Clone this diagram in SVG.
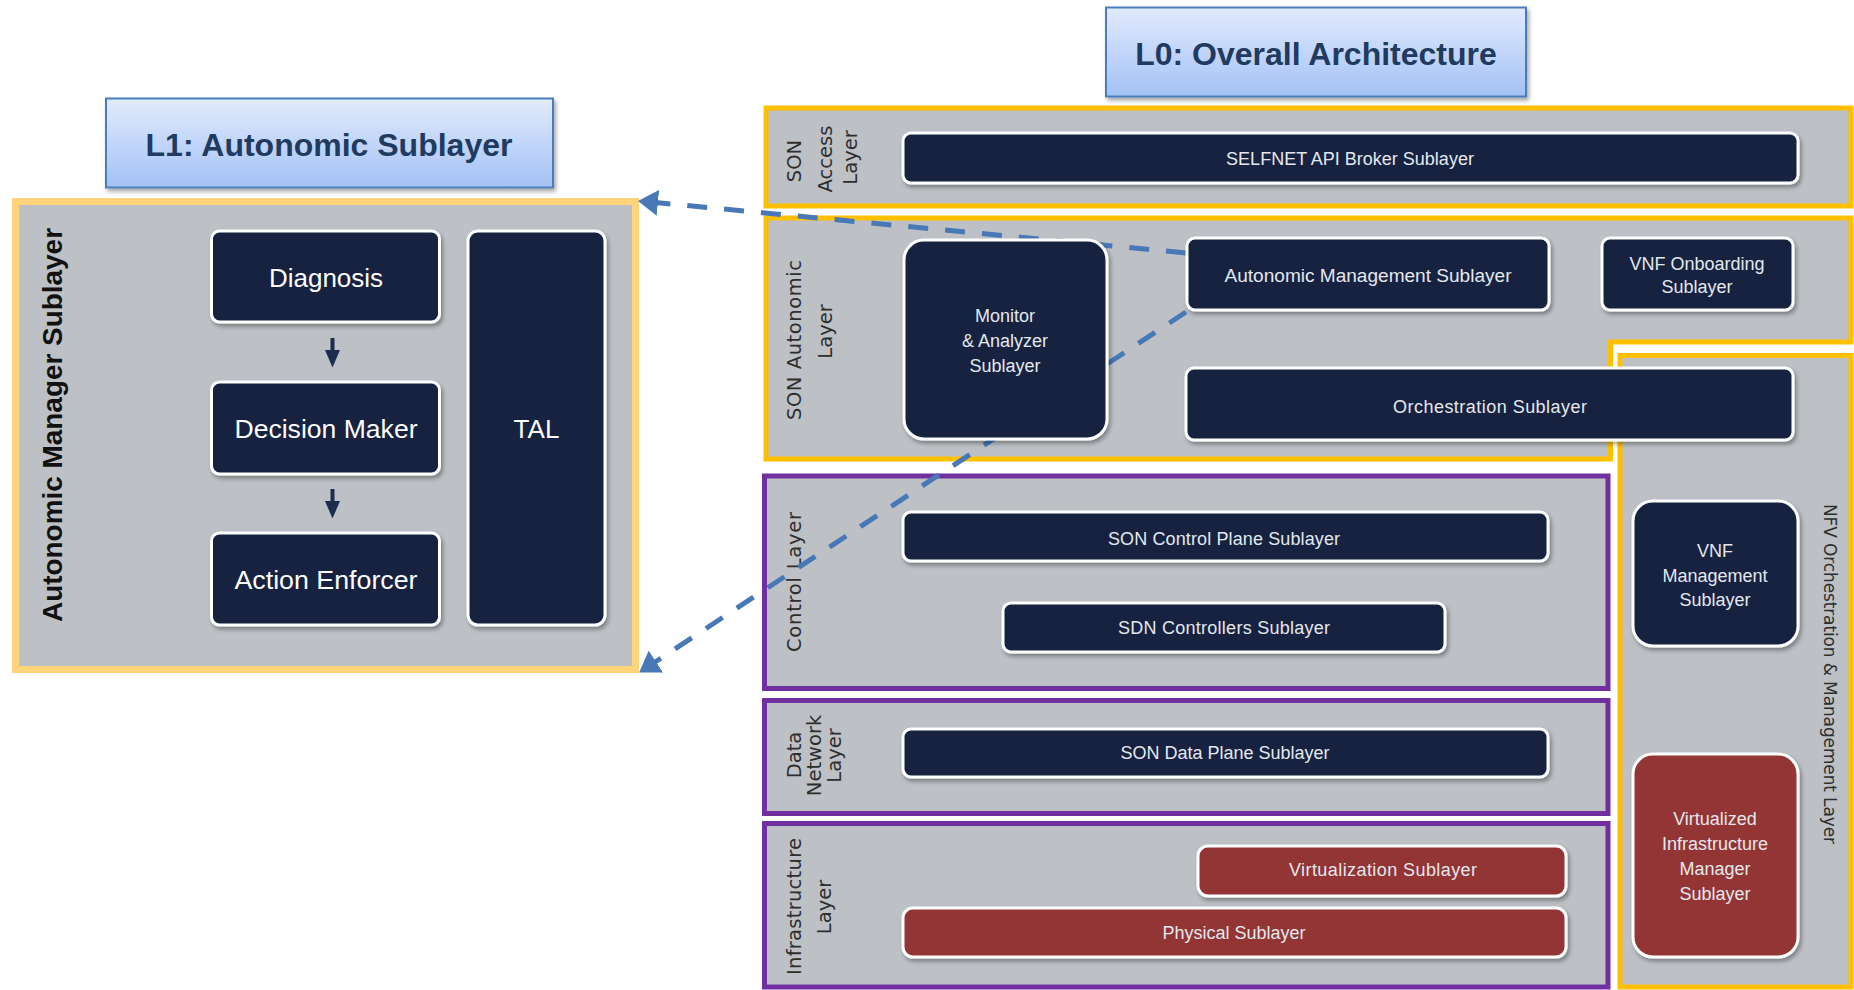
<svg xmlns="http://www.w3.org/2000/svg" width="1854" height="990" viewBox="0 0 1854 990">
<defs>
<linearGradient id="tg" x1="0" y1="0" x2="0" y2="1">
<stop offset="0" stop-color="#E2EBFD"/>
<stop offset="1" stop-color="#A3C1F5"/>
</linearGradient>
<filter id="sh" x="-10%" y="-10%" width="130%" height="140%">
<feDropShadow dx="2" dy="3" stdDeviation="2" flood-color="#000" flood-opacity="0.35"/>
</filter>
<marker id="ah" markerUnits="userSpaceOnUse" markerWidth="20" markerHeight="26" viewBox="0 0 20 26" refX="19" refY="13" orient="auto">
<path d="M0,0 L20,13 L0,26 z" fill="#4878B6"/>
</marker>
<style>
.title{fill:url(#tg);stroke:#4A7EBB;stroke-width:2;filter:url(#sh)}
.tt{font-family:"Liberation Sans",Arial,sans-serif;font-weight:bold;font-size:32px;fill:#203A60;text-anchor:middle}
.fy{fill:#BDC1C6;stroke:#FFC000;stroke-width:5}
.fp{fill:#BDC1C6;stroke:#7030A0;stroke-width:5}
.fl1{fill:#BDC1C6;stroke:#FFD47A;stroke-width:7}
.dk{fill:#12243F;stroke:#FFFFFF;stroke-width:3;filter:url(#sh)}
.rd{fill:#943634;stroke:#FFFFFF;stroke-width:3;filter:url(#sh)}
.nt{font-family:"Liberation Sans",Arial,sans-serif;font-size:18px;fill:#E4E8EE;text-anchor:middle}
.bt{font-family:"Liberation Sans",Arial,sans-serif;font-size:26px;fill:#FFFFFF;text-anchor:middle}
.lb{font-family:"DejaVu Sans",Verdana,sans-serif;font-size:19.5px;fill:#2E2E2E;text-anchor:middle}
.conn{fill:none;stroke:#4878B6;stroke-width:5;stroke-dasharray:20 17;marker-end:url(#ah)}
.da{fill:#1C2E4F}
</style>
</defs>
<rect width="1854" height="990" fill="#FFFFFF"/>

<!-- L1 -->
<g id="l1-title">
<rect class="title" x="106" y="98.5" width="447" height="89"/>
<text class="tt" x="329" y="156">L1: Autonomic Sublayer</text>
</g>
<g id="l1-frame">
<rect class="fl1" x="15.5" y="201.5" width="620" height="468"/>
<text transform="translate(62,425) rotate(-90)" font-family="'Liberation Sans',Arial,sans-serif" font-weight="bold" font-size="27" fill="#111111" text-anchor="middle" textLength="394" lengthAdjust="spacingAndGlyphs">Autonomic Manager Sublayer</text>
</g>
<g id="diagnosis">
<rect class="dk" x="211.5" y="231" width="228" height="91" rx="8"/>
<text class="bt" x="326" y="287">Diagnosis</text>
</g>
<g id="decision-maker">
<rect class="dk" x="211.5" y="382" width="228" height="92" rx="8"/>
<text class="bt" x="326" y="437.5" textLength="183" lengthAdjust="spacingAndGlyphs">Decision Maker</text>
</g>
<g id="action-enforcer">
<rect class="dk" x="211.5" y="533" width="228" height="92" rx="8"/>
<text class="bt" x="326" y="589" textLength="183" lengthAdjust="spacingAndGlyphs">Action Enforcer</text>
</g>
<g id="tal">
<rect class="dk" x="468" y="231" width="137" height="394" rx="10"/>
<text class="bt" x="536.5" y="437.5">TAL</text>
</g>
<g id="l1-arrows">
<rect class="da" x="330.5" y="338" width="4" height="14"/>
<polygon class="da" points="325,350 340,350 332.5,367.5"/>
<rect class="da" x="330.5" y="489" width="4" height="14"/>
<polygon class="da" points="325,501 340,501 332.5,518.5"/>
</g>

<!-- L0 -->
<g id="l0-title">
<rect class="title" x="1106" y="7.5" width="420" height="89"/>
<text class="tt" x="1316" y="65">L0: Overall Architecture</text>
</g>

<g id="son-access-layer">
<rect class="fy" x="766" y="108" width="1085" height="98"/>
<text class="lb" transform="translate(801,161) rotate(-90)">SON</text>
<text class="lb" transform="translate(832,159) rotate(-90)">Access</text>
<text class="lb" transform="translate(857,157.5) rotate(-90)">Layer</text>
</g>
<g id="son-autonomic-layer">
<polygon class="fy" points="766,218 1851,218 1851,342 1610.5,342 1610.5,459 766,459"/>
<text class="lb" transform="translate(801,340) rotate(-90)" textLength="160" lengthAdjust="spacing">SON Autonomic</text>
<text class="lb" transform="translate(832,331.5) rotate(-90)">Layer</text>
</g>
<g id="nfv-layer">
<rect class="fy" x="1620" y="355.5" width="231" height="631.5"/>
<text transform="translate(1824,674) rotate(90)" font-family="'DejaVu Sans',Verdana,sans-serif" font-size="17" fill="#2E2E2E" text-anchor="middle" textLength="340" lengthAdjust="spacing">NFV Orchestration  &amp; Management Layer</text>
</g>
<g id="control-layer">
<rect class="fp" x="764.5" y="476" width="843.5" height="212.5"/>
<text class="lb" transform="translate(801,582) rotate(-90)" textLength="140" lengthAdjust="spacing">Control Layer</text>
</g>
<g id="data-network-layer">
<rect class="fp" x="764.5" y="700.5" width="843.5" height="113"/>
<text class="lb" transform="translate(801,755) rotate(-90)">Data</text>
<text class="lb" transform="translate(821,755.5) rotate(-90)">Network</text>
<text class="lb" transform="translate(841,755.5) rotate(-90)">Layer</text>
</g>
<g id="infrastructure-layer">
<rect class="fp" x="764.5" y="823.5" width="843.5" height="163.5"/>
<text class="lb" transform="translate(801,906.5) rotate(-90)" textLength="137" lengthAdjust="spacing">Infrastructure</text>
<text class="lb" transform="translate(831,907) rotate(-90)">Layer</text>
</g>

<g id="connectors">
<path class="conn" d="M1186,253 L639,201"/>
<path class="conn" d="M1186,312 L640,672"/>
</g>

<g id="selfnet-api-broker">
<rect class="dk" x="903" y="133" width="895" height="50" rx="8"/>
<text class="nt" x="1350" y="165">SELFNET API Broker Sublayer</text>
</g>
<g id="monitor-analyzer">
<rect class="dk" x="904" y="240" width="203" height="199" rx="20"/>
<text class="nt" x="1005" y="322">Monitor</text>
<text class="nt" x="1005" y="347">&amp; Analyzer</text>
<text class="nt" x="1005" y="372">Sublayer</text>
</g>
<g id="autonomic-management">
<rect class="dk" x="1187" y="238" width="362" height="72" rx="8"/>
<text class="nt" x="1368" y="282" textLength="287" lengthAdjust="spacingAndGlyphs">Autonomic Management Sublayer</text>
</g>
<g id="vnf-onboarding">
<rect class="dk" x="1602" y="238" width="191" height="72" rx="8"/>
<text class="nt" x="1697" y="270">VNF Onboarding</text>
<text class="nt" x="1697" y="293">Sublayer</text>
</g>
<g id="orchestration">
<rect class="dk" x="1186" y="368" width="607" height="72" rx="8"/>
<text class="nt" x="1490" y="413" textLength="194" lengthAdjust="spacing">Orchestration Sublayer</text>
</g>
<g id="son-control-plane">
<rect class="dk" x="903" y="512" width="645" height="49" rx="8"/>
<text class="nt" x="1224" y="545" textLength="232" lengthAdjust="spacing">SON Control Plane Sublayer</text>
</g>
<g id="sdn-controllers">
<rect class="dk" x="1003" y="603" width="442" height="49" rx="8"/>
<text class="nt" x="1224" y="634" textLength="212" lengthAdjust="spacing">SDN Controllers Sublayer</text>
</g>
<g id="son-data-plane">
<rect class="dk" x="903" y="729" width="645" height="48" rx="8"/>
<text class="nt" x="1225" y="759">SON Data Plane Sublayer</text>
</g>
<g id="virtualization">
<rect class="rd" x="1198" y="846" width="368" height="50" rx="10"/>
<text class="nt" x="1383" y="876" textLength="188" lengthAdjust="spacing">Virtualization Sublayer</text>
</g>
<g id="physical">
<rect class="rd" x="903" y="908" width="663" height="49" rx="10"/>
<text class="nt" x="1234" y="939">Physical Sublayer</text>
</g>
<g id="vnf-management">
<rect class="dk" x="1633" y="501" width="165" height="145" rx="20"/>
<text class="nt" x="1715" y="557">VNF</text>
<text class="nt" x="1715" y="582">Management</text>
<text class="nt" x="1715" y="606">Sublayer</text>
</g>
<g id="vim">
<rect class="rd" x="1633" y="754" width="165" height="203" rx="20"/>
<text class="nt" x="1715" y="825">Virtualized</text>
<text class="nt" x="1715" y="850">Infrastructure</text>
<text class="nt" x="1715" y="875">Manager</text>
<text class="nt" x="1715" y="900">Sublayer</text>
</g>
</svg>
